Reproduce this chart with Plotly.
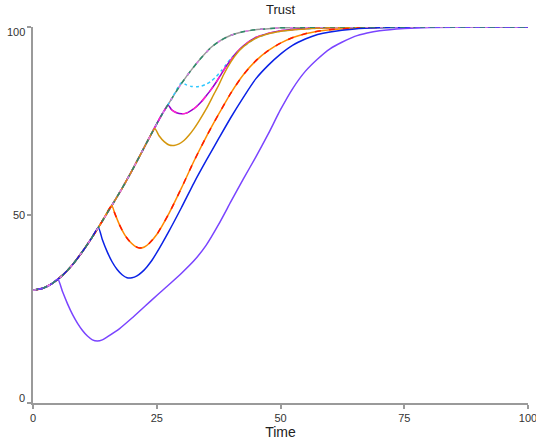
import plotly.graph_objects as go

# Baseline run (no shock)
base_t = [0, 2, 4, 6, 8, 10, 12, 14, 16, 18, 20, 22, 24, 26, 28, 30, 32, 34, 36, 38,
          40, 42, 44, 46, 48, 50, 55, 60, 70, 80, 90, 100]
base_v = [30, 30.5, 31.9, 34, 36.8, 40.3, 44.2, 48.4, 52.7, 57.1, 61.8, 66.8, 71.8, 76.6,
          80.9, 85, 88.6, 91.8, 94.6, 96.5, 97.8, 98.6, 99.1, 99.4, 99.6, 99.8, 99.9, 100,
          100, 100, 100, 100]

# Shocked runs: values from the shock time onward
purple_t = [5, 6, 7, 8, 9, 10, 11, 12, 13, 14, 15, 17.5, 20, 22.5, 25, 27.5, 30, 32.5, 35,
            37.5, 40, 42.5, 45, 47.5, 50, 52.5, 55, 57.5, 60, 62.5, 65, 67.5, 70, 75, 80, 100]
purple_v = [33, 29.5, 26.3, 23.5, 21.2, 19.3, 17.8, 16.8, 16.5, 16.8, 17.6, 19.8, 22.6,
            25.6, 28.6, 31.5, 34.5, 37.8, 42, 47.5, 53.6, 59.6, 65.4, 71.5, 78, 83.7, 88.2,
            91.5, 94.2, 96, 97.5, 98.4, 99, 99.6, 99.9, 100]

blue_t = [13.2, 14, 15, 16, 17, 18, 19, 20, 21, 22, 23, 24, 25, 27.5, 30, 32.5, 35, 37.5,
          40, 42.5, 45, 47.5, 50, 52.5, 55, 57.5, 60, 65, 70, 80, 100]
blue_v = [46.7, 43.5, 40.2, 37.5, 35.5, 34.1, 33.3, 33.3, 33.8, 34.8, 36.2, 37.9, 40, 45.8,
          52, 58.5, 64.5, 70.3, 76, 81.3, 86.2, 89.8, 92.8, 95.2, 96.8, 98, 98.7, 99.5, 99.8,
          100, 100]

red_t = [15.9, 16.5, 17.5, 18.5, 19.5, 20.5, 21.5, 22.5, 23.5, 25, 27.5, 30, 32.5, 35, 37.5,
         40, 42.5, 45, 47.5, 50, 52.5, 55, 57.5, 60, 65, 70, 80, 100]
red_v = [52.5, 50.5, 47.3, 44.8, 43, 41.8, 41.2, 41.5, 42.5, 44.8, 50.5, 57.2, 64.3, 70.8,
         76.8, 82.5, 87.3, 91, 93.7, 95.7, 97.2, 98.2, 98.9, 99.3, 99.7, 99.9, 100, 100]

gold_t = [24.6, 25.5, 26.5, 27.5, 28.5, 29.5, 30.5, 31.5, 32.5, 33.5, 35, 36.5, 37.5, 38.5,
          40, 41.5, 42.5, 45, 47.5, 50, 55, 60, 70, 100]
gold_v = [73, 71, 69.5, 68.6, 68.5, 68.9, 69.8, 71.2, 72.9, 74.9, 78.2, 82, 84.5, 87.3, 90.8,
          93.5, 94.8, 97, 98.2, 98.9, 99.5, 99.8, 100, 100]

magenta_t = [27.3, 28, 29, 30, 31, 32, 33, 34, 35, 36, 37, 38, 39, 40, 41, 42.5, 45, 47.5,
             50, 55, 60, 70, 100]
magenta_v = [79.2, 78, 77.2, 76.9, 77.1, 77.8, 78.8, 80.1, 81.7, 83.4, 85.3, 87.4, 89.5, 91.3,
             93, 95, 97.2, 98.3, 99, 99.6, 99.8, 100, 100]

cyan_t = [30, 31, 32, 33, 34, 35, 36, 37, 38, 39, 40, 41, 42.5, 45, 47.5, 50, 55, 60, 70, 100]
cyan_v = [85.2, 84.6, 84.2, 84.1, 84.3, 84.8, 85.6, 86.8, 88.3, 90, 91.6, 93, 94.8, 97, 98.2,
          98.9, 99.5, 99.8, 100, 100]

x_ticks = [0, 25, 50, 75, 100]
y_ticks = [0, 50, 100]


def run(post_t, post_v):
    t0 = post_t[0]
    t = [x for x in base_t if x < t0] + post_t
    v = [y for x, y in zip(base_t, base_v) if x < t0] + post_v
    return t, v


fig = go.Figure()

def add(t, v, color, dash="solid", width=1.5):
    fig.add_trace(go.Scatter(x=t, y=v, mode="lines", showlegend=False, hoverinfo="skip",
                             line=dict(color=color, width=width, dash=dash, shape="spline",
                                       smoothing=0.6)))

add(base_t, base_v, "#9a9a9a")
add(*run(cyan_t, cyan_v), "#2fc8ff", dash="dot")
add(*run(magenta_t, magenta_v), "#9a00d0")
add(*run(magenta_t, magenta_v), "#ff22cc", dash="6px,6px")
add(*run(gold_t, gold_v), "#d4960c")
add(*run(red_t, red_v), "#ff8a00")
add(*run(red_t, red_v), "#ff1a00", dash="6px,8px")
add(*run(blue_t, blue_v), "#0a22e6")
add(*run(purple_t, purple_v), "#7a44ff")
add(base_t, base_v, "#2e8b6a", dash="5px,5px")
add(base_t, base_v, "#e27ae8", dash="3px,12px")

axis_common = dict(showgrid=False, zeroline=False, showline=True, linecolor="#9a9a9a",
                   linewidth=2, ticks="outside", ticklen=4, tickwidth=1.5, tickcolor="#9a9a9a",
                   tickfont=dict(size=11, color="#333"), range=[0, 100], automargin=False)

# y tick labels: the end labels sit inside the axis extent, as in the reference
for val in y_ticks:
    shift = 5 if val == min(y_ticks) else (-5 if val == max(y_ticks) else 0)
    fig.add_annotation(x=0, xref="paper", y=val, yref="y", text=str(val), showarrow=False,
                       xanchor="right", yanchor="middle", xshift=-6, yshift=shift,
                       font=dict(size=11, color="#333"))

fig.update_layout(
    width=536, height=442,
    margin=dict(l=33, r=8, t=27, b=39),
    paper_bgcolor="white", plot_bgcolor="white",
    font=dict(family="Arial, Liberation Sans, sans-serif", color="#222"),
    title=dict(text="Trust", x=0.5, xref="paper", y=1, yref="container", yanchor="top",
               pad=dict(t=5), font=dict(size=13, color="#222"), automargin=False),
    xaxis=dict(**axis_common, tickvals=x_ticks, ticklabeloverflow="allow",
               title=dict(text="Time", font=dict(size=14, color="#222"), standoff=4)),
    yaxis=dict(**axis_common, tickvals=y_ticks, showticklabels=False),
)

fig.write_html("out.html")
